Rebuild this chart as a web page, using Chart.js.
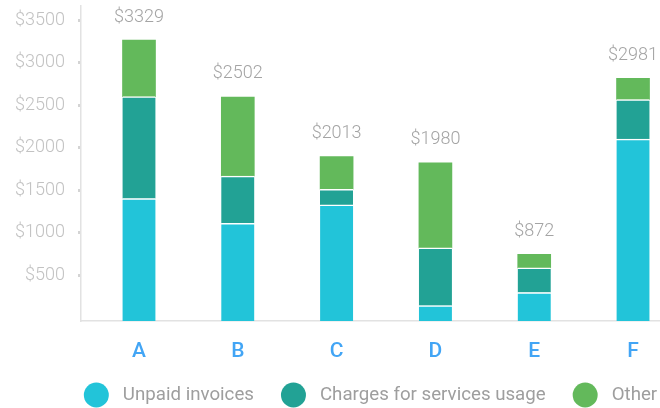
<!DOCTYPE html>
<html>
<head>
<meta charset="utf-8">
<script src="https://cdn.jsdelivr.net/npm/chart.js@4.4.1/dist/chart.umd.min.js"></script>
<style>
  html, body { margin: 0; padding: 0; background: #fff; }
  #wrap { width: 660px; height: 408px; }
</style>
</head>
<body>
<div id="wrap"><canvas id="chart" width="660" height="408"></canvas></div>
<script>
// stacked bars: three cost types per group, total written above each bar
const categories = ["A", "B", "C", "D", "E", "F"];
const unpaidInvoices = [1400, 1110, 1325, 140, 295, 2100];
const serviceCharges = [1200, 555, 185, 680, 290, 465];
const otherCosts = [665, 930, 385, 1000, 160, 250];
const totalLabels = [3329, 2502, 2013, 1980, 872, 2981];
const seriesNames = ["Unpaid invoices", "Charges for services usage", "Other"];
const seriesColors = ["#22c4d9", "#22a295", "#63b95b"];
const yTicks = [500, 1000, 1500, 2000, 2500, 3000, 3500];

const separator = { top: 1.5, right: 0, bottom: 0, left: 0 };

// totals above the bars
const totalsPlugin = {
  id: "totals",
  afterDatasetsDraw(chart) {
    const ctx = chart.ctx;
    const meta = chart.getDatasetMeta(chart.data.datasets.length - 1);
    ctx.save();
    ctx.font = "300 18px Roboto";
    ctx.fillStyle = "#a4a4a4";
    ctx.textAlign = "center";
    ctx.textBaseline = "middle";
    meta.data.forEach((bar, i) => {
      ctx.fillText("$" + totalLabels[i], bar.x, bar.y - 23);
    });
    ctx.restore();
  }
};

// round-dot legend under the x axis
const dotLegend = {
  id: "dotLegend",
  afterDraw(chart) {
    const ctx = chart.ctx;
    const area = chart.chartArea;
    const radius = 12.5, textGap = 14, itemGap = 27;
    ctx.save();
    ctx.font = "18.7px Roboto";
    const items = chart.data.datasets.map(ds => ({
      text: ds.label,
      color: ds.backgroundColor,
      w: ctx.measureText(ds.label).width
    }));
    let total = 0;
    items.forEach((it, i) => { total += radius * 2 + textGap + it.w + (i ? itemGap : 0); });
    let x = (area.left + area.right) / 2 - total / 2;
    const y = chart.height - 13;
    ctx.textBaseline = "middle";
    ctx.textAlign = "left";
    items.forEach(it => {
      ctx.fillStyle = it.color;
      ctx.beginPath();
      ctx.arc(x + radius, y, radius, 0, Math.PI * 2);
      ctx.fill();
      x += radius * 2 + textGap;
      ctx.fillStyle = "#9e9e9e";
      ctx.fillText(it.text, x, y);
      x += it.w + itemGap;
    });
    ctx.restore();
  }
};

new Chart(document.getElementById("chart"), {
  type: "bar",
  data: {
    labels: categories.map((_, i) => i),
    datasets: [
      { label: seriesNames[0], data: unpaidInvoices, backgroundColor: seriesColors[0], base: -40,
        borderColor: "#ffffff", borderWidth: separator },
      { label: seriesNames[1], data: serviceCharges, backgroundColor: seriesColors[1],
        borderColor: "#ffffff", borderWidth: separator },
      { label: seriesNames[2], data: otherCosts, backgroundColor: seriesColors[2], borderWidth: 0 }
    ]
  },
  options: {
    responsive: false,
    animation: false,
    barThickness: 33,
    layout: { padding: { top: 6, right: 0, bottom: 42, left: 0 } },
    plugins: {
      legend: { display: false },
      tooltip: { enabled: false }
    },
    scales: {
      x: {
        type: "linear",
        stacked: true,
        offset: false,
        min: -0.587,
        max: 5.273,
        grid: { display: false },
        border: { color: "#e2e2e2", width: 1.5 },
        ticks: {
          autoSkip: false,
          maxRotation: 0,
          padding: 10,
          color: "#42a5f5",
          font: { family: "Roboto", size: 21, weight: "500" },
          callback: (v) => categories[v] ?? ""
        },
        afterBuildTicks: (s) => { s.ticks = categories.map((_, i) => ({ value: i })); },
        afterFit: (s) => { s.height = 45; s.paddingLeft = 0; s.paddingRight = 0; }
      },
      y: {
        stacked: true,
        min: -40,
        max: 3665,
        grid: {
          drawOnChartArea: false,
          tickLength: 3,
          tickWidth: 3,
          tickColor: "#d4d4d4"
        },
        border: { color: "#e2e2e2", width: 1.5 },
        ticks: {
          autoSkip: false,
          padding: 13,
          color: "#c2c2c2",
          font: { family: "Roboto", size: 18, weight: "300" },
          callback: (v) => "$" + v
        },
        afterBuildTicks: (s) => { s.ticks = yTicks.map(v => ({ value: v })); },
        afterFit: (s) => { s.width = 81; s.paddingTop = 0; s.paddingBottom = 0; }
      }
    }
  },
  plugins: [totalsPlugin, dotLegend]
});
</script>
</body>
</html>
